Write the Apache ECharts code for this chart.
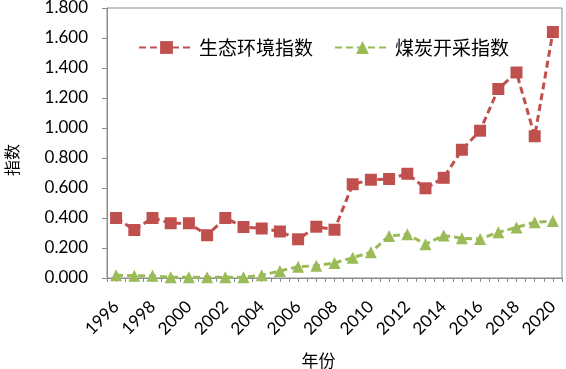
<!DOCTYPE html>
<html>
<head>
<meta charset="utf-8">
<script src="https://cdn.jsdelivr.net/npm/echarts@6/dist/echarts.min.js"></script>
<style>
html,body{margin:0;padding:0;background:#fff;}
#c{width:566px;height:369px;}
</style>
</head>
<body>
<div id="c"></div>
<script>
const years = ['1996','1997','1998','1999','2000','2001','2002','2003','2004','2005','2006','2007','2008','2009','2010','2011','2012','2013','2014','2015','2016','2017','2018','2019','2020'];
const ecoIndex = [0.400,0.320,0.400,0.365,0.365,0.285,0.400,0.340,0.330,0.310,0.258,0.342,0.322,0.625,0.655,0.660,0.695,0.598,0.668,0.855,0.982,1.260,1.370,0.945,1.640];
const coalIndex = [0.018,0.015,0.015,0.005,0.005,0.005,0.005,0.005,0.018,0.047,0.075,0.082,0.100,0.135,0.172,0.280,0.292,0.225,0.284,0.265,0.260,0.305,0.337,0.372,0.380];
const seriesNames = ['生态环境指数','煤炭开采指数'];
const yTicks = {min:0, max:1.8, interval:0.2};

const chart = echarts.init(document.getElementById('c'), null, {renderer:'canvas'});
const txt = '#000';
const lat = 'Lato, "Liberation Sans", sans-serif';
const cjk = '"Noto Sans CJK SC", sans-serif';
chart.setOption({
  animation:false,
  grid:{left:107, right:4, top:8, bottom:91, show:true, borderColor:'#8c8c8c', borderWidth:1,
        containLabel:false, outerBoundsMode:'none'},
  legend:{
    top:33, left:133, itemGap:21, itemWidth:55, itemHeight:16,
    textStyle:{fontFamily:cjk, fontSize:19, color:txt},
    data:seriesNames
  },
  xAxis:[{
    type:'category', data:years, boundaryGap:true,
    axisLine:{lineStyle:{color:'#8c8c8c', width:1}},
    axisTick:{show:false},
    axisLabel:{interval:1, rotate:45, fontFamily:lat, fontSize:17, color:txt, margin:26},
    name:'年份', nameLocation:'middle', nameGap:74, nameMoveOverlap:false,
    nameTextStyle:{fontFamily:cjk, fontSize:17, color:txt, padding:[0,32,0,0]}
  },{
    type:'value', min:0, max:50, interval:1, position:'bottom',
    axisLine:{show:false}, splitLine:{show:false}, axisLabel:{show:false},
    axisTick:{show:true, length:4, lineStyle:{color:'#8c8c8c'}}
  }],
  yAxis:{
    type:'value', min:yTicks.min, max:yTicks.max, interval:yTicks.interval,
    axisLine:{show:true, lineStyle:{color:'#8c8c8c'}},
    axisTick:{show:true, length:5, lineStyle:{color:'#8c8c8c'}},
    splitLine:{show:false},
    axisLabel:{fontFamily:lat, fontSize:17, color:txt, margin:19, formatter:v=>v.toFixed(3)},
    name:'指数', nameLocation:'middle', nameGap:87, nameRotate:90, nameMoveOverlap:false,
    nameTextStyle:{fontFamily:cjk, fontSize:16, color:txt, padding:[0,34,0,0]}
  },
  series:[{
    name:seriesNames[0], type:'line', data:ecoIndex,
    symbol:'rect', symbolSize:12,
    itemStyle:{color:'#C0504D'},
    lineStyle:{color:'#C0504D', width:3, type:[7,4]}
  },{
    name:seriesNames[1], type:'line', data:coalIndex,
    symbol:'triangle', symbolSize:12,
    itemStyle:{color:'#9BBB59'},
    lineStyle:{color:'#9BBB59', width:3, type:[7,4]}
  }]
});
</script>
</body>
</html>
